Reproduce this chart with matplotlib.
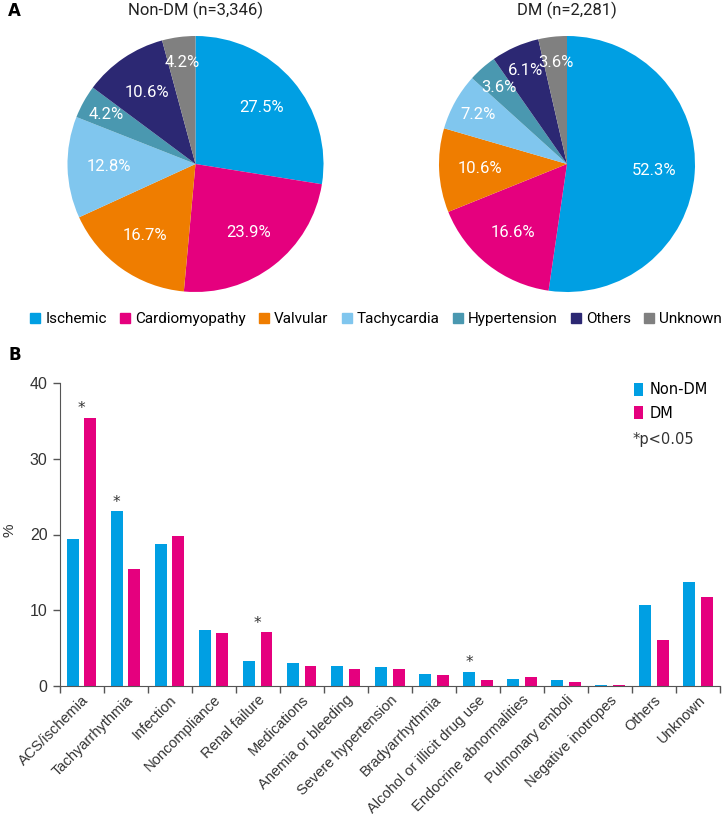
import numpy as np
import matplotlib.pyplot as plt
from matplotlib.lines import Line2D

# ---- panel A: etiology of heart failure
causes = ['Ischemic', 'Cardiomyopathy', 'Valvular', 'Tachycardia', 'Hypertension', 'Others', 'Unknown']
cause_colors = ['#009fe3', '#e5007e', '#ef7d00', '#80c6ee', '#4a98b0', '#2c2873', '#808080']
nondm_pct = [27.5, 23.9, 16.7, 12.8, 4.2, 10.6, 4.2]
dm_pct = [52.3, 16.6, 10.6, 7.2, 3.6, 6.1, 3.6]
pie_titles = ['Non-DM (n=3,346)', 'DM (n=2,281)']

# ---- panel B: precipitating factors
factors = ['ACS/ischemia', 'Tachyarrhythmia', 'Infection', 'Noncompliance', 'Renal failure',
           'Medications', 'Anemia or bleeding', 'Severe hypertension', 'Bradyarrhythmia',
           'Alcohol or illicit drug use', 'Endocrine abnormalities', 'Pulmonary emboli',
           'Negative inotropes', 'Others', 'Unknown']
nondm_bar = [19.4, 23.1, 18.8, 7.4, 3.3, 3.0, 2.6, 2.5, 1.6, 1.9, 0.9, 0.75, 0.13, 10.7, 13.7]
dm_bar = [35.4, 15.5, 19.8, 7.0, 7.1, 2.7, 2.3, 2.25, 1.4, 0.8, 1.15, 0.5, 0.13, 6.1, 11.7]
signif = ['ACS/ischemia', 'Tachyarrhythmia', 'Renal failure', 'Alcohol or illicit drug use']

BLUE, PINK = '#009fe3', '#e5007e'
narrow = ['Roboto', 'DejaVu Sans']

W, H = 728, 826
fig = plt.figure(figsize=(W / 100, H / 100), dpi=100)


def px_axes(cx, cy, r):
    return fig.add_axes([(cx - r) / W, 1 - (cy + r) / H, 2 * r / W, 2 * r / H])


def draw_pie(ax, values, title):
    wedges, _ = ax.pie(values, colors=cause_colors, startangle=90, counterclock=False,
                       wedgeprops=dict(linewidth=0))
    for w, v in zip(wedges, values):
        ang = np.deg2rad((w.theta1 + w.theta2) / 2)
        r = 0.68 if v >= 10 else 0.8
        ax.text(r * np.cos(ang), r * np.sin(ang), f'{v}%', ha='center', va='center',
                color='white', fontsize=12, family=narrow)
    ax.set_xlim(-1, 1)
    ax.set_ylim(-1, 1)
    ax.text(0.5, 1.1, title, transform=ax.transAxes, ha='center', va='center',
            fontsize=12, family=narrow, color='#222222')


ax1 = px_axes(195.5, 164, 128)
draw_pie(ax1, nondm_pct, pie_titles[0])
ax2 = px_axes(567, 164, 128)
draw_pie(ax2, dm_pct, pie_titles[1])

handles = [Line2D([], [], ls='', marker='s', markersize=7, color=c) for c in cause_colors]
fig.legend(handles, causes, loc='center', bbox_to_anchor=(0.517, 1 - 319 / H), ncol=7,
           frameon=False, handlelength=0.6, handletextpad=0.35, columnspacing=0.9,
           prop=dict(family=narrow, size=11))

fig.text(8 / W, 1 - 11 / H, 'A', fontsize=12, fontweight='bold', va='center', ha='left')
fig.text(8 / W, 1 - 355 / H, 'B', fontsize=12, fontweight='bold', va='center', ha='left')

# ---- bar chart
ax = fig.add_axes([59.5 / W, 1 - 686 / H, (720 - 59.5) / W, (686 - 383) / H])
x = np.arange(len(factors))
bw = 0.27
ax.bar(x - 0.2, nondm_bar, bw, color=BLUE, label='Non-DM')
ax.bar(x + 0.2, dm_bar, bw, color=PINK, label='DM')

for name in signif:
    i = factors.index(name)
    a, b = nondm_bar[i], dm_bar[i]
    xs = i if b >= a else i - 0.2
    ax.text(xs, max(a, b) + 0.2, '*', ha='center', va='bottom', fontsize=11, color='#333333')

ax.set_xlim(-0.5, len(factors) - 0.5)
ax.set_ylim(0, 40)
ax.set_yticks([0, 10, 20, 30, 40])
ax.set_xticks(np.arange(len(factors) + 1) - 0.5)
ax.set_xticklabels([])
ax.set_xticks(x, minor=True)
ax.set_xticklabels(factors, minor=True, rotation=45, ha='right', rotation_mode='anchor',
                   fontsize=10.5, family='Liberation Sans', color='#333333')
ax.tick_params(axis='x', which='minor', length=0, pad=5)
ax.tick_params(axis='x', which='major', length=5, width=1, color='#555555')
ax.tick_params(axis='y', length=5, width=1, color='#555555', labelsize=11.5, labelcolor='#333333')
for t in ax.get_yticklabels():
    t.set_family('Liberation Sans')
ax.spines['top'].set_visible(False)
ax.spines['right'].set_visible(False)
ax.spines['left'].set_color('#555555')
ax.spines['bottom'].set_color('#555555')
fig.text(9 / W, 1 - 530 / H, '%', rotation=90, ha='center', va='center',
         fontsize=11, family='Liberation Sans', color='#333333')

leg = ax.legend(loc='upper left', bbox_to_anchor=(0.85, 1.045), frameon=False,
                handlelength=0.6, handleheight=0.9, handletextpad=0.5, labelspacing=0.55,
                prop=dict(family='DejaVu Sans', size=10.5))
ax.text(0.868, 0.815, '*p<0.05', transform=ax.transAxes, ha='left', va='center',
        fontsize=10.5, family='DejaVu Sans', color='#333333')

fig.savefig('out.png', dpi=100)
